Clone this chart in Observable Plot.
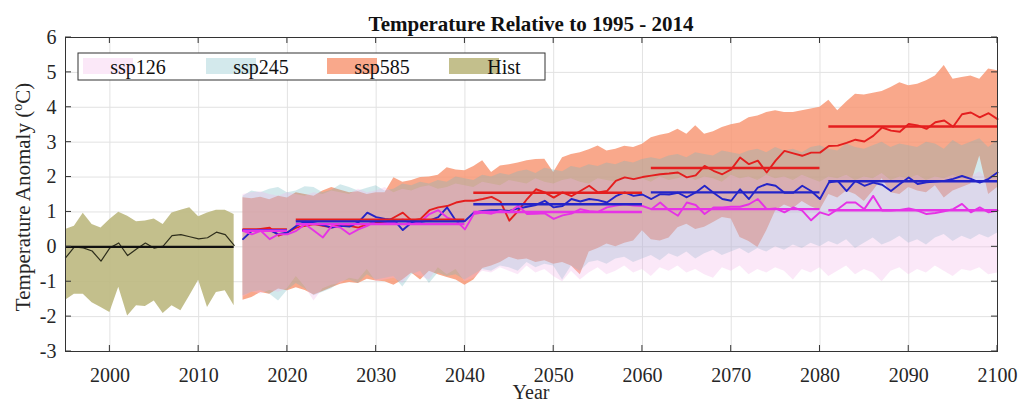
<!DOCTYPE html>
<html>
<head>
<meta charset="utf-8">
<script src="https://cdn.jsdelivr.net/npm/d3@7"></script>
<script src="https://cdn.jsdelivr.net/npm/@observablehq/plot@0.6"></script>
<style>
  body { margin: 0; background: #fff; }
  #chart { width: 1019px; height: 405px; }
</style>
</head>
<body>
<div id="chart"></div>
<script>
// Historical period 1995-2014: ensemble mean and spread
const histYears = d3.range(1995, 2015);
const histMean = [-0.32, 0.00, -0.03, -0.12, -0.41, -0.03, 0.11, -0.25, -0.06, 0.11,
                  -0.04, 0.02, 0.32, 0.35, 0.29, 0.23, 0.26, 0.42, 0.35, 0.04];
const histHigh = [0.50, 0.59, 0.96, 0.64, 0.54, 0.78, 0.99, 0.88, 0.72, 0.74,
                  0.80, 0.64, 0.97, 1.05, 1.12, 0.86, 0.97, 1.05, 1.05, 0.93];
const histLow  = [-1.53, -1.36, -1.36, -1.60, -1.74, -1.88, -1.16, -1.98, -1.69, -1.71,
                  -1.55, -1.91, -1.69, -1.83, -1.40, -0.96, -1.74, -1.31, -1.26, -1.69];

// Scenario projections 2015-2100
const projYears = d3.range(2015, 2101);

const ssp126Mean = [
  0.46, 0.36, 0.46, 0.22, 0.36, 0.36, 0.46, 0.65, 0.46, 0.27,
  0.60, 0.55, 0.36, 0.50, 0.60, 0.75, 0.72, 0.70, 0.79, 0.65,
  0.72, 0.94, 1.05, 0.84, 0.75, 0.50, 0.94, 0.98, 0.95, 1.03,
  0.99, 1.18, 0.94, 0.95, 0.96, 0.80, 0.90, 0.95, 1.08, 1.02,
  1.00, 1.13, 1.18, 1.22, 1.18, 1.17, 1.08, 1.27, 1.05, 0.89,
  1.27, 1.20, 0.94, 1.13, 1.13, 1.15, 1.15, 1.22, 1.37, 1.08,
  1.10, 0.99, 1.13, 1.04, 0.76, 0.99, 0.91, 1.08, 1.27, 1.27,
  1.08, 1.46, 1.04, 1.04, 1.06, 1.10, 1.04, 0.94, 0.97, 1.02,
  1.08, 1.23, 0.99, 1.13, 0.99, 1.04];
const ssp126High = [
  1.50, 1.55, 1.58, 1.50, 1.45, 1.55, 1.50, 1.45, 1.55, 1.50,
  1.60, 1.55, 1.50, 1.65, 1.55, 1.60, 1.70, 1.55, 1.65, 1.60,
  1.70, 1.75, 1.65, 1.70, 1.80, 1.75, 1.70, 1.85, 1.80, 1.75,
  1.90, 1.85, 1.80, 1.95, 1.85, 1.80, 1.90, 1.95, 1.85, 1.80,
  1.95, 1.90, 1.85, 2.00, 1.90, 1.95, 1.85, 2.00, 1.90, 1.95,
  2.05, 1.90, 2.00, 1.95, 1.85, 2.05, 1.95, 2.00, 1.90, 2.05,
  1.95, 2.00, 1.90, 2.05, 1.95, 1.85, 2.00, 1.95, 2.05, 1.90,
  2.00, 1.95, 2.10, 1.90, 2.00, 1.95, 2.05, 1.90, 2.00, 1.95,
  2.05, 1.95, 2.00, 2.15, 1.90, 2.00];
const ssp126Low = [
  -1.45, -1.30, -1.35, -1.25, -1.30, -1.20, -0.85, -1.15, -1.55, -1.20,
  -1.10, -1.05, -0.90, -0.95, -0.65, -1.00, -0.95, -0.90, -1.05, -0.75,
  -0.85, -0.95, -0.60, -0.80, -0.65, -1.00, -0.90, -0.70, -0.75, -0.60,
  -0.70, -0.80, -0.55, -0.75, -0.65, -0.85, -1.00, -0.70, -0.95, -0.75,
  -0.60, -0.80, -0.70, -0.55, -0.75, -0.65, -0.85, -0.60, -0.70, -0.55,
  -0.75, -0.65, -0.80, -0.90, -0.60, -0.70, -0.55, -0.80, -0.65, -0.75,
  -0.60, -0.70, -0.95, -0.65, -0.75, -0.60, -0.85, -0.70, -0.55, -0.80,
  -0.65, -0.75, -1.00, -0.70, -0.60, -0.80, -0.65, -0.75, -0.55, -0.70,
  -0.85, -0.65, -0.70, -0.60, -0.80, -0.75];

const ssp245Mean = [
  0.22, 0.46, 0.49, 0.48, 0.36, 0.41, 0.60, 0.72, 0.68, 0.62,
  0.55, 0.60, 0.58, 0.70, 0.98, 0.85, 0.80, 0.77, 0.48, 0.70,
  0.72, 0.75, 0.85, 1.13, 0.74, 0.74, 0.98, 1.03, 1.05, 1.05,
  1.03, 1.10, 1.15, 1.20, 1.32, 1.13, 1.17, 1.37, 1.30, 1.37,
  1.34, 1.27, 1.45, 1.56, 1.46, 1.50, 1.37, 1.51, 1.50, 1.55,
  1.42, 1.56, 1.75, 1.55, 1.37, 1.32, 1.65, 1.37, 1.70, 1.80,
  1.75, 1.55, 1.55, 1.75, 1.60, 1.37, 1.84, 1.89, 1.60, 1.89,
  1.75, 1.84, 1.78, 1.60, 1.80, 1.99, 1.80, 1.85, 1.87, 1.89,
  1.95, 2.03, 1.95, 1.84, 1.95, 2.13];
const ssp245High = [
  1.45, 1.60, 1.55, 1.65, 1.70, 1.55, 1.60, 1.72, 1.70, 1.55,
  1.62, 1.78, 1.70, 1.60, 1.68, 1.75, 1.60, 1.65, 1.80, 1.75,
  1.85, 1.80, 1.90, 1.85, 2.00, 1.95, 1.90, 2.05, 2.00, 2.10,
  2.05, 2.15, 2.20, 2.10, 2.25, 2.20, 2.15, 2.30, 2.25, 2.35,
  2.30, 2.40, 2.35, 2.45, 2.40, 2.50, 2.55, 2.50, 2.60, 2.65,
  2.55, 2.70, 2.65, 2.60, 2.75, 2.70, 2.65, 2.75, 2.80, 2.70,
  2.85, 2.75, 2.80, 2.70, 2.85, 2.90, 2.80, 2.75, 2.95, 2.85,
  2.80, 2.90, 3.00, 2.85, 2.95, 2.90, 2.85, 3.00, 2.95, 2.80,
  3.05, 2.90, 3.00, 3.10, 2.85, 3.05];
const ssp245Low = [
  -1.40, -1.30, -1.25, -1.35, -1.55, -1.25, -1.05, -1.20, -1.40, -1.30,
  -1.20, -1.00, -0.95, -1.05, -0.80, -0.95, -0.90, -0.85, -1.15, -0.80,
  -0.70, -1.05, -0.75, -0.85, -0.80, -0.95, -0.80, -0.65, -0.70, -0.55,
  -0.60, -0.70, -0.45, -0.60, -0.50, -0.55, -0.95, -0.55, -0.70, -0.45,
  -0.40, -0.50, -0.35, -0.30, -0.45, -0.35, -0.25, -0.40, -0.20, -0.30,
  -0.15, -0.35, -0.20, -0.10, -0.25, -0.15, -0.05, -0.20, -0.05, -0.15,
  0.00, -0.10, 0.05, -0.05, 0.10, 0.00, 0.15, 0.05, 0.20, -0.05,
  0.10, 0.25, 0.05, 0.15, 0.30, 0.10, 0.20, 0.05, 0.25, 0.35,
  0.15, 0.30, 0.20, 0.35, 0.25, 0.40];

const ssp585Mean = [
  0.48, 0.46, 0.51, 0.55, 0.32, 0.41, 0.55, 0.60, 0.65, 0.60,
  0.56, 0.65, 0.60, 0.55, 0.65, 0.70, 0.70, 0.84, 0.98, 0.75,
  0.80, 1.05, 1.13, 1.17, 1.27, 1.32, 1.32, 1.37, 1.43, 1.30,
  0.75, 1.03, 1.37, 1.65, 1.56, 1.41, 1.56, 1.45, 1.60, 1.75,
  1.56, 1.60, 1.89, 1.99, 1.94, 2.00, 2.04, 2.08, 2.10, 2.13,
  1.99, 2.05, 2.32, 2.18, 2.08, 2.22, 2.56, 2.37, 2.47, 2.13,
  2.47, 2.75, 2.68, 2.61, 2.70, 2.70, 2.89, 2.90, 2.98, 3.07,
  3.02, 3.18, 3.42, 3.33, 3.30, 3.52, 3.48, 3.38, 3.57, 3.62,
  3.44, 3.80, 3.85, 3.71, 3.83, 3.66];
const ssp585High = [
  1.41, 1.38, 1.42, 1.35, 1.45, 1.40, 1.55, 1.50, 1.45, 1.60,
  1.70, 1.62, 1.55, 1.58, 1.50, 1.55, 1.55, 1.98, 1.85, 1.90,
  1.99, 2.00, 2.05, 2.27, 2.20, 2.18, 2.30, 2.47, 2.13, 2.32,
  2.35, 2.40, 2.47, 2.50, 2.51, 2.13, 2.55, 2.65, 2.70, 2.78,
  2.89, 2.75, 2.80, 2.88, 2.85, 2.94, 3.13, 3.20, 3.25, 3.37,
  3.23, 3.47, 3.23, 3.30, 3.42, 3.50, 3.55, 3.70, 3.75, 3.85,
  3.90, 3.85, 3.85, 3.90, 3.95, 4.00, 4.20, 3.90, 4.15, 4.37,
  4.35, 4.40, 4.45, 4.57, 4.70, 4.62, 4.66, 4.76, 4.90, 5.20,
  4.80, 4.85, 4.90, 4.80, 5.10, 5.05];
const ssp585Low = [
  -1.53, -1.45, -1.31, -1.36, -1.21, -1.26, -1.17, -1.25, -1.38, -1.28,
  -1.17, -1.07, -1.02, -1.05, -0.93, -0.98, -1.00, -1.10, -0.95, -0.75,
  -0.95, -0.70, -0.80, -0.88, -0.95, -1.10, -0.95, -0.62, -0.55, -0.45,
  -0.30, -0.38, -0.35, -0.45, -0.40, -0.50, -0.45, -0.55, -0.80, -0.15,
  -0.05, 0.08, 0.00, 0.10, 0.17, 0.46, 0.20, 0.17, 0.25, 0.55,
  0.65, 0.50, 0.56, 0.70, 0.84, 0.80, 0.27, 0.15, -0.02, 0.46,
  1.03, 1.20, 1.10, 1.30, 1.15, 1.05, 1.50, 1.40, 1.60, 1.50,
  1.30, 1.60, 1.95, 1.55, 1.50, 1.70, 1.60, 1.55, 1.75, 1.40,
  1.60, 1.70, 1.80, 2.60, 1.50, 1.70];

// Period averages
const periodStart = [2015, 2021, 2041, 2061, 2081];
const periodEnd   = [2020, 2040, 2060, 2080, 2100];
const ssp126Period = [0.46, 0.65, 1.00, 1.08, 1.05];
const ssp245Period = [0.48, 0.73, 1.22, 1.56, 1.88];
const ssp585Period = [0.50, 0.78, 1.55, 2.26, 3.45];
const histPeriod = {start: 1995, end: 2014, value: 0};

const xTicks = [2000, 2010, 2020, 2030, 2040, 2050, 2060, 2070, 2080, 2090, 2100];
const yTicks = [-3, -2, -1, 0, 1, 2, 3, 4, 5, 6];

const legendNames = ["ssp126", "ssp245", "ssp585", "Hist"];

// Band colours (drawn with transparency, high-emission band first)
const C126 = "#f2b2e8", C245 = "#6cb6c0", C585 = "#f7926e", CHIST = "#bdb880";
const OP126 = 0.3, OP245 = 0.3, OP585 = 0.8, OPHIST = 0.9;
const L126 = "#e632e6", L245 = "#2424c8", L585 = "#e41e1e";

const hist = histYears.map((year, i) => ({year, mean: histMean[i], low: histLow[i], high: histHigh[i]}));
const proj = projYears.map((year, i) => ({
  year,
  m126: ssp126Mean[i], lo126: ssp126Low[i], hi126: ssp126High[i],
  m245: ssp245Mean[i], lo245: ssp245Low[i], hi245: ssp245High[i],
  m585: ssp585Mean[i], lo585: ssp585Low[i], hi585: ssp585High[i]
}));
const periodRows = (values, stroke) =>
  periodStart.map((s, i) => ({start: s, end: periodEnd[i], value: values[i], stroke}));
const periods = [
  ...periodRows(ssp585Period, L585),
  ...periodRows(ssp245Period, L245),
  ...periodRows(ssp126Period, L126)
];

const FONT = "'Liberation Serif', 'Times New Roman', serif";

const chart = Plot.plot({
  width: 1019,
  height: 405,
  marginLeft: 65,
  marginRight: 22,
  marginTop: 37,
  marginBottom: 54,
  style: {fontFamily: FONT, fontSize: "20px", background: "#fff", color: "#262626"},
  x: {domain: [1995, 2100]},
  y: {domain: [-3, 6]},
  marks: [
    Plot.ruleX(xTicks, {stroke: "#e2e2e2", strokeWidth: 1}),
    Plot.ruleY(yTicks, {stroke: "#e2e2e2", strokeWidth: 1}),
    Plot.areaY(hist, {x: "year", y1: "low", y2: "high", fill: CHIST, fillOpacity: OPHIST}),
    Plot.areaY(proj, {x: "year", y1: "lo585", y2: "hi585", fill: C585, fillOpacity: OP585}),
    Plot.areaY(proj, {x: "year", y1: "lo245", y2: "hi245", fill: C245, fillOpacity: OP245}),
    Plot.areaY(proj, {x: "year", y1: "lo126", y2: "hi126", fill: C126, fillOpacity: OP126}),
    Plot.line(hist, {x: "year", y: "mean", stroke: "#2e2e1c", strokeWidth: 1.2}),
    Plot.ruleY([histPeriod], {y: "value", x1: "start", x2: "end", stroke: "#111", strokeWidth: 2.4}),
    Plot.line(proj, {x: "year", y: "m585", stroke: L585, strokeWidth: 1.9}),
    Plot.line(proj, {x: "year", y: "m245", stroke: L245, strokeWidth: 1.9}),
    Plot.line(proj, {x: "year", y: "m126", stroke: L126, strokeWidth: 1.9}),
    Plot.ruleY(periods, {y: "value", x1: "start", x2: "end", stroke: "stroke", strokeWidth: 2.4}),
    Plot.frame({stroke: "#333", strokeWidth: 1}),
    Plot.axisX({ticks: xTicks, tickSize: 0, tickPadding: 16, tickFormat: d => String(d), label: null}),
    Plot.axisY({ticks: yTicks, tickSize: 0, tickPadding: 9, tickFormat: d => String(d), label: null})
  ]
});

document.getElementById("chart").appendChild(chart);

// Inward tick marks, title, axis labels and legend
const svg = d3.select(chart);
const sx = chart.scale("x"), sy = chart.scale("y");
const xLeft = sx.apply(1995), xRight = sx.apply(2100);
const yTop = sy.apply(6), yBottom = sy.apply(-3);
const tickLen = 6;
const tickGroup = svg.append("g").attr("stroke", "#333").attr("stroke-width", 1);
xTicks.forEach(t => {
  const x = sx.apply(t);
  tickGroup.append("line").attr("x1", x).attr("x2", x).attr("y1", yBottom).attr("y2", yBottom - tickLen);
  tickGroup.append("line").attr("x1", x).attr("x2", x).attr("y1", yTop).attr("y2", yTop + tickLen);
});
yTicks.forEach(t => {
  const y = sy.apply(t);
  tickGroup.append("line").attr("x1", xLeft).attr("x2", xLeft + tickLen).attr("y1", y).attr("y2", y);
  tickGroup.append("line").attr("x1", xRight).attr("x2", xRight - tickLen).attr("y1", y).attr("y2", y);
});

svg.append("text")
  .attr("x", (xLeft + xRight) / 2).attr("y", 30.5)
  .attr("text-anchor", "middle")
  .attr("font-family", FONT).attr("font-size", 21).attr("font-weight", "bold")
  .attr("fill", "#111")
  .text("Temperature Relative to 1995 - 2014");

svg.append("text")
  .attr("x", (xLeft + xRight) / 2).attr("y", 399)
  .attr("text-anchor", "middle")
  .attr("font-family", FONT).attr("font-size", 20)
  .attr("fill", "#262626")
  .text("Year");

const ylab = svg.append("text")
  .attr("transform", `translate(30,${(yTop + yBottom) / 2 + 3}) rotate(-90)`)
  .attr("text-anchor", "middle")
  .attr("font-family", FONT).attr("font-size", 21)
  .attr("fill", "#262626");
ylab.append("tspan").text("Temperature Anomaly (");
ylab.append("tspan").attr("font-size", 14).attr("dy", -8).text("o");
ylab.append("tspan").attr("dy", 8).text("C)");

// Legend box with one swatch per band
const legend = svg.append("g");
legend.append("rect")
  .attr("x", 78).attr("y", 53).attr("width", 467).attr("height", 27)
  .attr("fill", "#fff").attr("stroke", "#333").attr("stroke-width", 1);
const swatchX = [83, 206, 327, 449];
const swatchFill = [C126, C245, C585, CHIST];
const swatchOpacity = [OP126, OP245, OP585, OPHIST];
legendNames.forEach((name, i) => {
  legend.append("rect")
    .attr("x", swatchX[i]).attr("y", 58).attr("width", 50).attr("height", 16)
    .attr("fill", swatchFill[i]).attr("fill-opacity", swatchOpacity[i]);
  legend.append("text")
    .attr("x", swatchX[i] + 55).attr("y", 73.5)
    .attr("font-family", FONT).attr("font-size", 20).attr("fill", "#111")
    .text(name);
});
</script>
</body>
</html>
